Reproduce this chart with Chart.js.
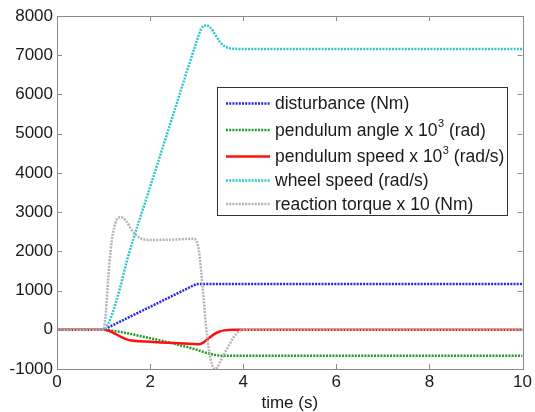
<!DOCTYPE html>
<html><head><meta charset="utf-8">
<script src="https://cdn.jsdelivr.net/npm/chart.js@4/dist/chart.umd.min.js"></script>
<style>html,body{margin:0;padding:0;background:#fff}#wrap{width:535px;height:412px}</style>
</head><body><div id="wrap"><canvas id="c" width="535" height="412"></canvas></div>
<script>
const xTicks = [0, 2, 4, 6, 8, 10];
const yTicks = [-1000, 0, 1000, 2000, 3000, 4000, 5000, 6000, 7000, 8000];
const xLabel = "time (s)";

const labels = [
  "disturbance (Nm)",
  "pendulum angle x 10^3 (rad)",
  "pendulum speed x 10^3 (rad/s)",
  "wheel speed (rad/s)",
  "reaction torque x 10 (Nm)"
];

const disturbanceT = [0, 1, 3, 10];
const disturbanceV = [0, 0, 1170, 1170];

const angleT = [0, 1, 1.25, 1.5, 1.75, 2, 2.25, 2.5, 2.75, 3, 3.2, 3.4, 3.55, 10];
const angleV = [0, 0, -35, -85, -150, -215, -280, -350, -425, -510, -585, -640, -662, -665];

const speedT = [0, 1, 1.1, 1.2, 1.35, 1.5, 1.6, 1.8, 2, 2.5, 2.9, 3.06, 3.15, 3.27, 3.38, 3.48, 3.6, 3.76, 10];
const speedV = [0, 0, -20, -70, -165, -245, -275, -295, -306, -340, -360, -367, -320, -205, -110, -50, -15, 0, 0];

const wheelT = [0, 1, 1.1, 1.2, 1.35, 1.5, 2, 2.5, 3, 3.1, 3.2, 3.3, 3.4, 3.5, 3.6, 3.7, 3.8, 4, 10];
const wheelV = [0, 0, 150, 450, 1050, 1750, 3640, 5500, 7350, 7680, 7760, 7700, 7520, 7340, 7230, 7180, 7165, 7160, 7160];

const torqueT = [0, 1, 1.05, 1.1, 1.15, 1.2, 1.25, 1.3, 1.38, 1.5, 1.6, 1.7, 1.8, 2, 2.5, 2.95, 3.0, 3.05, 3.1, 3.15, 3.2, 3.25, 3.3, 3.35, 3.4, 3.45, 3.5, 3.6, 3.7, 3.8, 3.9, 4.0, 10];
const torqueV = [0, 0, 450, 1300, 2000, 2450, 2700, 2830, 2870, 2750, 2550, 2420, 2330, 2290, 2300, 2320, 2250, 2000, 1450, 800, 100, -400, -750, -950, -1000, -950, -830, -600, -380, -180, -50, 0, 0];

const colors = ["#2424e8", "#229a22", "#ff1010", "#2ec8c8", "#b4b4b4"];
const dashed = [true, true, false, true, true];
const smooth = [false, true, true, true, true];

const pts = (t, v) => t.map((x, i) => ({x: x, y: v[i]}));
const seriesData = [pts(disturbanceT, disturbanceV), pts(angleT, angleV), pts(speedT, speedV), pts(wheelT, wheelV), pts(torqueT, torqueV)];

const FONT = "'Liberation Sans', Arial, sans-serif";

const frame = {
  id: 'frame',
  afterDatasetsDraw(chart) {
    const {ctx, chartArea: a, scales} = chart;
    ctx.save();
    ctx.strokeStyle = '#8a8a8a';
    ctx.lineWidth = 1;
    ctx.strokeRect(Math.round(a.left) + 0.5, Math.round(a.top) + 0.5, Math.round(a.right - a.left), Math.round(a.bottom - a.top));
    ctx.beginPath();
    const L = 5;
    xTicks.forEach(v => {
      const x = Math.round(scales.x.getPixelForValue(v)) + 0.5;
      ctx.moveTo(x, a.bottom); ctx.lineTo(x, a.bottom - L);
      ctx.moveTo(x, a.top); ctx.lineTo(x, a.top + L);
    });
    yTicks.forEach(v => {
      const y = Math.round(scales.y.getPixelForValue(v)) + 0.5;
      ctx.moveTo(a.left, y); ctx.lineTo(a.left + L, y);
      ctx.moveTo(a.right, y); ctx.lineTo(a.right - L, y);
    });
    ctx.stroke();
    ctx.restore();
  },
  afterDraw(chart) {
    const ctx = chart.ctx;
    ctx.save();
    const bx = 217.5, by = 87.5, bw = 290, bh = 128;
    ctx.fillStyle = '#fff';
    ctx.fillRect(bx, by, bw, bh);
    ctx.strokeStyle = '#333';
    ctx.lineWidth = 1;
    ctx.strokeRect(bx, by, bw, bh);
    const rows = [103.5, 130, 156.5, 180.5, 204];
    labels.forEach((lab, i) => {
      const y = rows[i];
      ctx.beginPath();
      ctx.strokeStyle = colors[i];
      ctx.lineWidth = 2.5;
      ctx.setLineDash(dashed[i] ? [2, 1.2] : []);
      ctx.moveTo(226, y); ctx.lineTo(270, y);
      ctx.stroke();
      ctx.setLineDash([]);
      ctx.fillStyle = '#1a1a1a';
      ctx.textBaseline = 'middle';
      ctx.textAlign = 'left';
      let x = 275;
      const parts = lab.split('^');
      ctx.font = '17.5px ' + FONT;
      ctx.fillText(parts[0], x, y + 1);
      x += ctx.measureText(parts[0]).width;
      if (parts.length > 1) {
        const sup = parts[1].charAt(0);
        const rest = parts[1].slice(1);
        ctx.font = '11px ' + FONT;
        ctx.fillText(sup, x + 0.5, y - 6);
        x += ctx.measureText(sup).width + 0.5;
        ctx.font = '17.5px ' + FONT;
        ctx.fillText(rest, x, y + 1);
      }
    });
    ctx.restore();
  }
};

new Chart(document.getElementById('c'), {
  type: 'line',
  data: {
    datasets: seriesData.map((d, i) => ({
      label: labels[i],
      data: d,
      borderColor: colors[i],
      backgroundColor: colors[i],
      borderWidth: 2.5,
      borderDash: dashed[i] ? [2, 1.2] : [],
      pointRadius: 0,
      fill: false,
      tension: 0,
      cubicInterpolationMode: smooth[i] ? 'monotone' : 'default',
      order: 5 - i
    }))
  },
  options: {
    responsive: false,
    animation: false,
    devicePixelRatio: 1,
    layout: {padding: {top: 16, right: 10, left: 0, bottom: 0}},
    plugins: {legend: {display: false}, tooltip: {enabled: false}},
    scales: {
      x: {
        type: 'linear', min: 0, max: 10,
        grid: {display: false, drawTicks: false}, border: {display: false},
        afterBuildTicks: s => { s.ticks = xTicks.map(v => ({value: v})); },
        afterFit: s => { s.height = 43; },
        ticks: {font: {family: FONT, size: 17}, color: '#1a1a1a', padding: 3, maxRotation: 0, autoSkip: false, callback: v => String(v)},
        title: {display: true, text: xLabel, font: {family: FONT, size: 17, lineHeight: 1}, color: '#1a1a1a', padding: {top: 0, bottom: 0}}
      },
      y: {
        type: 'linear', min: -1000, max: 8000,
        grid: {display: false, drawTicks: false}, border: {display: false},
        afterBuildTicks: s => { s.ticks = yTicks.map(v => ({value: v})); },
        afterFit: s => { s.width = 57; },
        ticks: {font: {family: FONT, size: 17}, color: '#1a1a1a', padding: 4, autoSkip: false, callback: v => String(v)}
      }
    }
  },
  plugins: [frame]
});
</script>
</body></html>
